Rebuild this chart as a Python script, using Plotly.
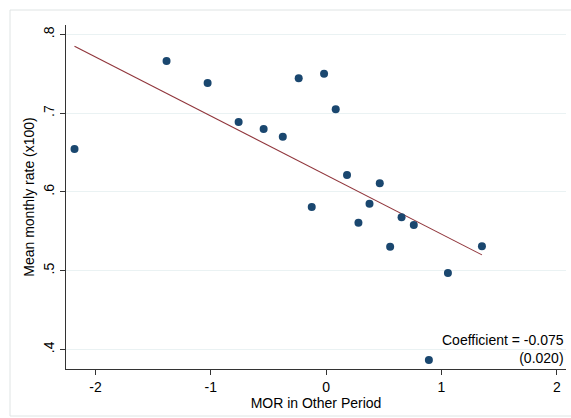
import numpy as np
import plotly.graph_objects as go

# Data
mor_other = [-2.182, -1.384, -1.028, -0.759, -0.542, -0.376, -0.238, -0.125, -0.018, 0.083,
             0.181, 0.280, 0.376, 0.465, 0.555, 0.654, 0.760, 0.891, 1.056, 1.351]
mean_rate = [0.6546, 0.7664, 0.7384, 0.6889, 0.680, 0.6702, 0.7444, 0.581, 0.7502, 0.705,
             0.6216, 0.561, 0.585, 0.611, 0.5305, 0.5679, 0.558, 0.3865, 0.497, 0.531]
coefficient = -0.075
std_error = 0.020
x_ticks = [-2, -1, 0, 1, 2]
x_ticklabels = ["-2", "-1", "0", "1", "2"]
y_ticks = [0.4, 0.5, 0.6, 0.7, 0.8]
y_ticklabels = [".4", ".5", ".6", ".7", ".8"]

x = np.array(mor_other)
y = np.array(mean_rate)
intercept = y.mean() - coefficient * x.mean()
xf = np.array([x.min(), x.max()])
yf = intercept + coefficient * xf
coef_text = f"Coefficient = {coefficient:.3f}<br>({std_error:.3f})"

W, H = 571, 418
L, R, T, B = 66, 5, 25, 49
FS = 14

fig = go.Figure()
fig.add_trace(go.Scatter(x=xf, y=yf, mode="lines",
                         line=dict(color="#90353b", width=1.1), hoverinfo="skip"))
fig.add_trace(go.Scatter(x=mor_other, y=mean_rate, mode="markers",
                         marker=dict(color="#1a476f", size=8, line=dict(width=0))))

pw, ph = W - L - R, H - T - B
# outer graph-region frame
fig.add_shape(type="rect", xref="paper", yref="paper",
              x0=(10 - L) / pw, x1=(578 - L) / pw,
              y0=(H - B - 416) / ph, y1=(H - B - 10) / ph,
              line=dict(color="#dfe4e4", width=1), fillcolor="rgba(0,0,0,0)", layer="above")

fig.add_annotation(xref="paper", yref="paper", x=(566 - L) / pw, y=(H - B - 330) / ph,
                   text=coef_text, showarrow=False, xanchor="right", yanchor="top",
                   align="right", font=dict(family="Liberation Sans, Arial", size=FS, color="#000"))

fig.update_layout(
    width=W, height=H, margin=dict(l=L, r=R, t=T, b=B),
    paper_bgcolor="white", plot_bgcolor="white", showlegend=False,
    font=dict(family="Liberation Sans, Arial", size=FS, color="#000"),
)
fig.update_xaxes(range=[-2.256, 2.08], tickvals=x_ticks, ticktext=x_ticklabels,
                 showgrid=False, zeroline=False, showline=True, linecolor="#333", linewidth=1,
                 ticks="outside", ticklen=5, tickcolor="#333",
                 title=dict(text="MOR in Other Period", standoff=2, font=dict(size=FS)),
                 tickfont=dict(size=FS))
fig.update_yaxes(range=[0.3752, 0.812], tickvals=y_ticks, ticktext=y_ticklabels,
                 showgrid=True, gridcolor="#eaf2f3", gridwidth=1,
                 zeroline=False, showline=True, linecolor="#333", linewidth=1,
                 ticks="outside", ticklen=5, tickcolor="#333", tickangle=-90,
                 title=dict(text="Mean monthly rate (x100)", standoff=3, font=dict(size=FS)),
                 tickfont=dict(size=FS))

fig.write_html("out.html", config={"displayModeBar": False},
               post_script="document.body.style.margin='0';document.body.style.overflow='hidden';")
